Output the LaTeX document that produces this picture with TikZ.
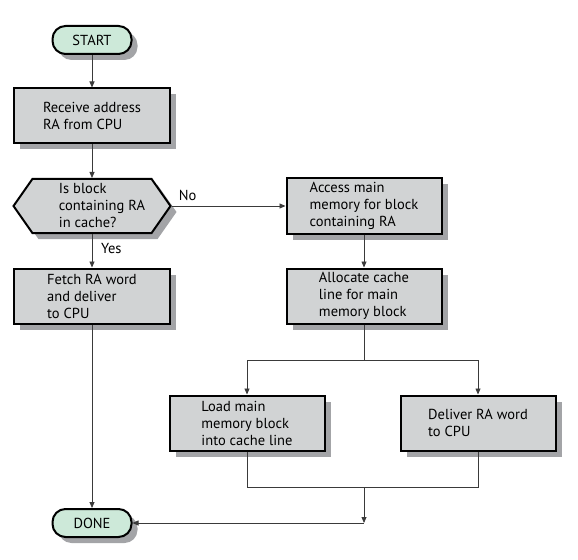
\documentclass[tikz,border=0pt]{standalone}
\usepackage{fontspec}
\setmainfont{PT Sans}
\usetikzlibrary{arrows.meta,shapes.symbols,shadows}
\definecolor{boxgray}{HTML}{D1D3D4}
\definecolor{termgreen}{HTML}{CDE9D9}
\definecolor{shadowgray}{HTML}{A3A4A7}
\definecolor{linegray}{HTML}{3A3A3A}

\begin{document}
\begin{tikzpicture}[x=1bp,y=-1bp,
        boxshadow/.style={drop shadow={fill=shadowgray,opacity=1,shadow xshift=6bp,shadow yshift=-6bp}},
        procbox/.style={boxshadow,draw,line width=2bp,fill=boxgray,minimum width=155bp,minimum height=55bp,align=left,inner sep=0pt},
        termbox/.style={boxshadow,draw,line width=2bp,fill=termgreen,rounded corners=13bp,minimum width=79bp,minimum height=28bp},
        decbox/.style={boxshadow,draw,line width=2bp,fill=boxgray,shape=signal,signal to=west and east,signal pointer angle=110,minimum width=157bp,minimum height=54bp},
        flow/.style={draw=linegray,line width=0.8bp,-{Triangle[length=6bp,width=5bp]}},
        link/.style={draw=linegray,line width=0.8bp}]
    \fontsize{14.5bp}{17bp}\selectfont
    \useasboundingbox (0,0) rectangle (578,560);

    \node[termbox] (start) at (92,40) {START};
    \node[procbox] (receive) at (92,116) {Receive address\\RA from CPU};
    \node[decbox,label={[xshift=10bp,align=left]center:Is block\\containing RA\\in cache?}] (decide) at (92,206) {};
    \node[procbox] (fetch) at (92,296) {Fetch RA word\\and deliver\\to CPU};
    \node[procbox] (access) at (364,206) {Access main\\memory for block\\containing RA};
    \node[procbox] (alloc) at (364,296) {Allocate cache\\line for main\\memory block};
    \node[procbox] (load) at (247,423) {Load main\\memory block\\into cache line};
    \node[procbox] (deliver) at (478,423) {Deliver RA word\\to CPU};
    \node[termbox] (done) at (92,523) {DONE};

    \coordinate (split) at (364,360);
    \coordinate (merge) at (364,487);
    \coordinate (corner) at (364,523);

    \draw[flow] (start) -- (receive);
    \draw[flow] (receive) -- (decide);
    \draw[flow] (decide) -- node[pos=0.14,above] {No} (access);
    \draw[flow] (decide) -- node[pos=0.42,right,xshift=4bp] {Yes} (fetch);
    \draw[flow] (access) -- (alloc);
    \draw[link] (alloc) -- (split);
    \draw[flow] (split) -| (load);
    \draw[flow] (split) -| (deliver);
    \draw[link] (load) |- (merge);
    \draw[link] (deliver) |- (merge);
    \draw[flow] (merge) -- (corner);
    \draw[flow] (corner) -- (done);
    \draw[flow] (fetch) -- (done);
\end{tikzpicture}
\end{document}
